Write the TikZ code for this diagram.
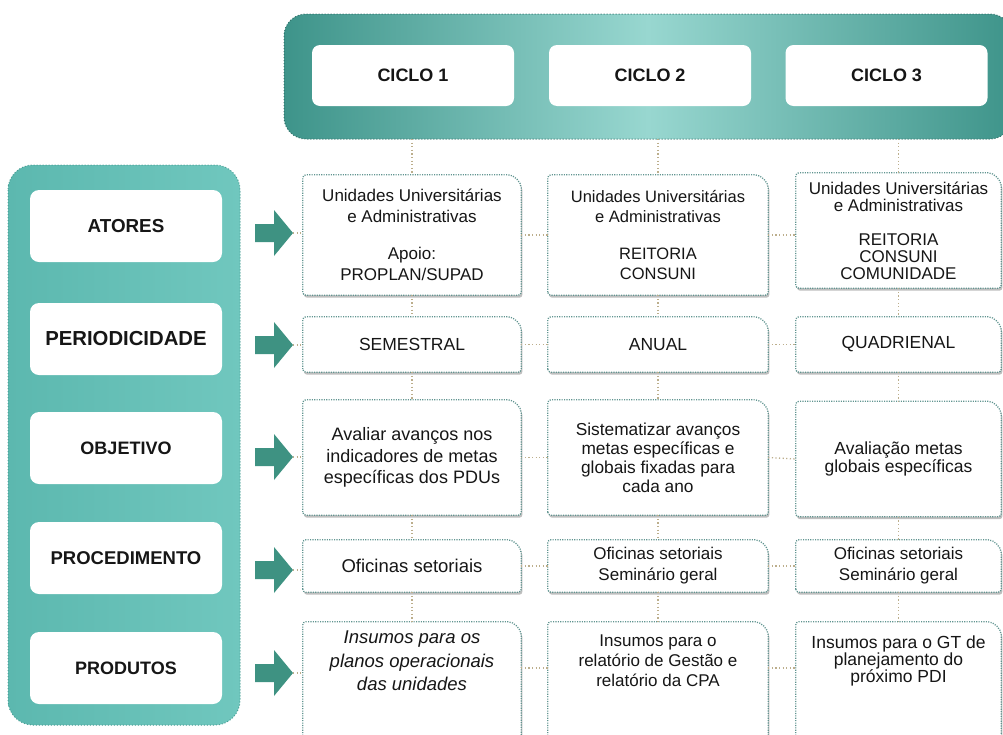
\documentclass[tikz,border=0pt]{standalone}
\usepackage{fontspec}
\setmainfont{Liberation Sans}
\usetikzlibrary{calc}
\pgfdeclarelayer{bg}
\pgfdeclarelayer{mid}
\pgfsetlayers{bg,mid,main}
\definecolor{bandD}{RGB}{62,148,138}
\definecolor{bandL}{RGB}{152,215,208}
\definecolor{leftband}{RGB}{112,199,190}
\definecolor{leftbandD}{RGB}{92,184,175}
\definecolor{leftedge}{RGB}{72,158,148}
\definecolor{arrowc}{RGB}{62,146,130}
\definecolor{cellline}{RGB}{96,148,144}
\definecolor{connc}{RGB}{188,174,140}
\definecolor{txt}{RGB}{22,22,22}
\newcommand\tfont[2]{\fontsize{#1}{#2}\selectfont}
\newcommand\cellpath[4]{($(#1.south west)+(#3,#2+#4)$) -- ($(#1.north west)+(#3,#4)$) -- ($(#1.north east)+(#3-16,#4)$) .. controls ($(#1.north east)+(#3-7.2,#4)$) and ($(#1.north east)+(#3,#4+7.2)$) .. ($(#1.north east)+(#3,#4+16)$) -- ($(#1.south east)+(#3,#2+#4)$) -- cycle}
\newcommand\cellframe[2]{%
  \fill[black,opacity=0.25,rounded corners=3pt] \cellpath{#1}{#2}{1.2}{2.5};
  \draw[cellframe] \cellpath{#1}{#2}{0}{0};}
\newcommand\blockarrow[1]{%
  \fill[barrow] ($(#1)+(-38,-9)$) -- ($(#1)+(-19,-9)$) -- ($(#1)+(-19,-23)$) -- (#1) -- ($(#1)+(-19,23)$) -- ($(#1)+(-19,9)$) -- ($(#1)+(-38,9)$) -- cycle;}
\begin{document}
\begin{tikzpicture}[x=1pt,y=-1pt,
  lbl/.style={fill=white, rounded corners=9pt, minimum width=192pt, minimum height=72pt, inner sep=0pt, font=\bfseries\tfont{18}{21}, text=txt},
  ciclo/.style={fill=white, rounded corners=8pt, minimum width=202pt, minimum height=61pt, inner sep=0pt, font=\bfseries\tfont{18}{20}, text=txt},
  cell/.style={inner sep=0pt, align=center, text=txt, font=\tfont{17}{21}},
  cellframe/.style={draw=cellline, line width=1.3pt, dash pattern=on 1.1pt off 1.3pt, fill=white, rounded corners=3pt},
  conn/.style={draw=connc, line width=1.3pt, dash pattern=on 1.2pt off 2.4pt},
  barrow/.style={fill=arrowc},
]
\useasboundingbox (0,0) rectangle (1003,734);
\clip (0,0) rectangle (1003,734);

% bands
\begin{pgfonlayer}{bg}
\fill[white] (0,0) rectangle (1003,734);
\shade[left color=bandD, right color=bandD, middle color=bandL, rounded corners=22pt] (284,14) rectangle (1012,139);
\draw[bandD!75!black, line width=1pt, dotted, rounded corners=22pt] (284,14) rectangle (1012,139);
\shade[left color=leftbandD, right color=leftband, rounded corners=25pt] (8,165) rectangle (240,725);
\draw[leftedge, line width=1pt, dotted, rounded corners=25pt] (8,165) rectangle (240,725);
\end{pgfonlayer}

% left labels
\node[lbl, font=\bfseries\tfont{18.8}{21}] (L1) at (126,226) {ATORES};
\node[lbl, font=\bfseries\tfont{20.3}{22}] (L2) at (126,339) {PERIODICIDADE};
\node[lbl] (L3) at (126,448) {OBJETIVO};
\node[lbl, font=\bfseries\tfont{18.5}{21}] (L4) at (126,558) {PROCEDIMENTO};
\node[lbl] (L5) at (126,668) {PRODUTOS};

% cycles
\node[ciclo] (K1) at (413,75.5) {CICLO 1};
\node[ciclo] (K2) at (650,75.5) {CICLO 2};
\node[ciclo] (K3) at (886.5,75.5) {CICLO 3};

% row 1
\node[cell, minimum width=218pt, minimum height=120pt] (c11) at (412,235)
  {Unidades Universitárias\\e Administrativas\\[16pt]Apoio:\\PROPLAN/SUPAD};
\node[cell, minimum width=220pt, minimum height=120pt, font=\tfont{16.5}{20}] (c21) at (658,235)
  {Unidades Universitárias\\e Administrativas\\[17pt]REITORIA\\CONSUNI};
\node[cell, minimum width=205pt, minimum height=115pt, font=\tfont{17}{17}] (c31) at (898.5,230.5)
  {Unidades Universitárias\\e Administrativas\\[17pt]REITORIA\\CONSUNI\\COMUNIDADE};
% row 2
\node[cell, minimum width=218pt, minimum height=55pt, font=\tfont{17.5}{21}] (c12) at (412,344.5) {SEMESTRAL};
\node[cell, minimum width=220pt, minimum height=55pt, font=\tfont{17.5}{21}] (c22) at (658,344.5) {ANUAL};
\node[cell, minimum width=205pt, minimum height=55pt, font=\tfont{17.5}{21}] (c32) at (898.5,344.5) {QUADRIENAL};
% row 3
\node[cell, minimum width=218pt, minimum height=115pt, font=\tfont{18}{21.5}] (c13) at (412,457.5)
  {Avaliar avanços nos\\indicadores de metas\\específicas dos PDUs};
\node[cell, minimum width=220pt, minimum height=115pt, font=\tfont{17.3}{19}] (c23) at (658,457.5)
  {Sistematizar avanços\\metas específicas e\\globais fixadas para\\cada ano};
\node[cell, minimum width=205pt, minimum height=115pt, font=\tfont{17.5}{16.5}] (c33) at (898.5,459)
  {Avaliação metas\\globais específicas};
% row 4
\node[cell, minimum width=218pt, minimum height=52pt, font=\tfont{18.5}{21}] (c14) at (412,566) {Oficinas setoriais};
\node[cell, minimum width=220pt, minimum height=52pt, font=\tfont{17}{21}] (c24) at (658,566) {Oficinas setoriais\\Seminário geral};
\node[cell, minimum width=205pt, minimum height=52pt, font=\tfont{17}{21}] (c34) at (898.5,566) {Oficinas setoriais\\Seminário geral};
% row 5
\node[cell, minimum width=218pt, minimum height=78pt, font=\itshape\tfont{18.5}{23.5}] (c15) at (412,661)
  {Insumos para os\\planos operacionais\\das unidades};
\node[cell, minimum width=220pt, minimum height=78pt, font=\tfont{17}{20}] (c25) at (658,661)
  {Insumos para o\\relatório de Gestão e\\relatório da CPA};
\node[cell, minimum width=205pt, minimum height=78pt, font=\tfont{17.5}{16.5}] (c35) at (898.5,661)
  {Insumos para o GT de\\planejamento do\\próximo PDI};

% frames
\begin{pgfonlayer}{mid}
\foreach \n in {c11,c21,c31,c12,c22,c32,c13,c23,c33,c14,c24,c34} {\cellframe{\n}{0}}
\foreach \n in {c15,c25,c35} {\cellframe{\n}{60}}
\end{pgfonlayer}

% connectors
\coordinate (bb) at (0,139);
\coordinate (r5) at (0,668);
\foreach \c in {1,2,3} {
  \draw[conn] (c\c1.north |- bb) -- (c\c1.north);
  \draw[conn] (c\c1.south) -- (c\c2.north);
  \draw[conn] (c\c2.south) -- (c\c3.north);
  \draw[conn] (c\c3.south) -- (c\c4.north);
  \draw[conn] (c\c4.south) -- (c\c5.north);
}
\draw[conn] (c11.east) -- (c11.east -| c21.west);
\draw[conn] (c21.east) -- (c21.east -| c31.west);
\foreach \r in {2,3,4} {
  \draw[conn] (c1\r.east) -- (c2\r.west);
  \draw[conn] (c2\r.east) -- (c3\r.west);
}
\draw[conn] (c15.east |- r5) -- (c25.west |- r5);
\draw[conn] (c25.east |- r5) -- (c35.west |- r5);

% arrows
\coordinate (t1) at (293,233);
\coordinate (t2) at (293,345);
\coordinate (t3) at (293,457);
\coordinate (t4) at (293,570);
\coordinate (t5) at (293,673);
\foreach \k in {1,...,5} {
  \blockarrow{t\k}
  \draw[conn] (t\k) -- (t\k -| c1\k.west);
}
\end{tikzpicture}
\end{document}
